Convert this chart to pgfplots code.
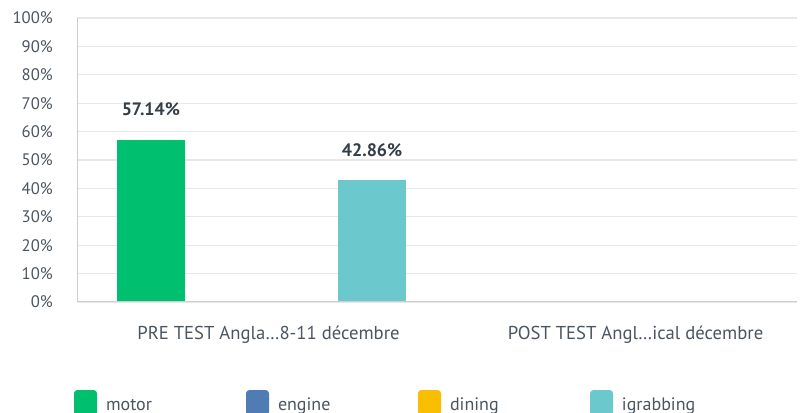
\documentclass[border=0pt]{standalone}
\usepackage{pgfplots}
\pgfplotsset{compat=1.18}
\usepackage{fontspec}
\setmainfont{PT Sans}
\definecolor{motor}{HTML}{00BF6F}
\definecolor{engine}{HTML}{507CB6}
\definecolor{dining}{HTML}{F9BE00}
\definecolor{igrabbing}{HTML}{6BC8CD}
\definecolor{txt}{HTML}{333E48}
\definecolor{ltxt}{HTML}{4A5560}
\definecolor{gridc}{HTML}{E8E8E8}
\definecolor{axc}{HTML}{CDCDCD}
\begin{document}
\begin{tikzpicture}
\useasboundingbox (0,0) rectangle (600pt,309.75pt);
\begin{axis}[
  at={(57.75pt,83.25pt)}, anchor=south west,
  scale only axis, width=540pt, height=213pt,
  ymin=0, ymax=100, ytick={0,10,...,100},
  yticklabel={\pgfmathprintnumber{\tick}\%},
  /pgf/number format/assume math mode=true,
  xmin=-0.5027, xmax=1.4591, xtick={0,1},
  xticklabels={PRE TEST Angla…8-11 décembre, POST TEST Angl…ical décembre},
  ybar=4.3pt, bar width=51pt,
  axis line style={draw=none},
  major tick length=0pt, tick style={draw=none},
  ymajorgrids, grid style={gridc, line width=0.9pt},
  yticklabel style={font=\fontsize{12.5}{14}\selectfont, text=ltxt, inner sep=0pt, anchor=east, xshift=-18pt},
  xticklabel style={font=\fontsize{14}{16}\selectfont, text=ltxt, inner sep=0pt, anchor=base, yshift=-28.5pt, xshift=5.25pt},
  legend style={draw=none, fill=none, at={(-0.00417,-0.3099)}, anchor=north west, inner sep=0pt, outer sep=0pt,
    font=\fontsize{13.5}{15}\selectfont, text=ltxt, nodes={inner sep=0pt}, column sep=0pt, cells={anchor=base west}},
  legend columns=4,
  legsq/.style={legend image code/.code={\fill[##1, rounded corners=2.5pt] (0pt,-4pt) rectangle (17.25pt,15pt);}},
  nodes near coords style={font=\bfseries\fontsize{13.5}{15}\selectfont, text=txt, anchor=south, inner sep=0pt, yshift=17.5pt},
]
\addplot[fill=motor, draw=none, legsq, nodes near coords={\pgfmathprintnumber[fixed, precision=2, fixed zerofill]{\pgfplotspointmeta}\%}] coordinates {(0,57.14)};
\addlegendentry{\hspace*{6.75pt}\makebox[105pt][l]{motor}}
\addplot[fill=engine, draw=none, legsq] coordinates {(0,0)};
\addlegendentry{\hspace*{6.75pt}\makebox[105pt][l]{engine}}
\addplot[fill=dining, draw=none, legsq] coordinates {(0,0)};
\addlegendentry{\hspace*{6.75pt}\makebox[105pt][l]{dining}}
\addplot[fill=igrabbing, draw=none, legsq, nodes near coords={\pgfmathprintnumber[fixed, precision=2, fixed zerofill]{\pgfplotspointmeta}\%}] coordinates {(0,42.86)};
\addlegendentry{\hspace*{6.75pt}\makebox[105pt][l]{igrabbing}}
\draw[axc, line width=0.9pt] (rel axis cs:0,0) -- (rel axis cs:0,1);
\draw[axc, line width=0.9pt] (rel axis cs:0,0) -- (rel axis cs:1,0);
\end{axis}
\end{tikzpicture}
\end{document}
